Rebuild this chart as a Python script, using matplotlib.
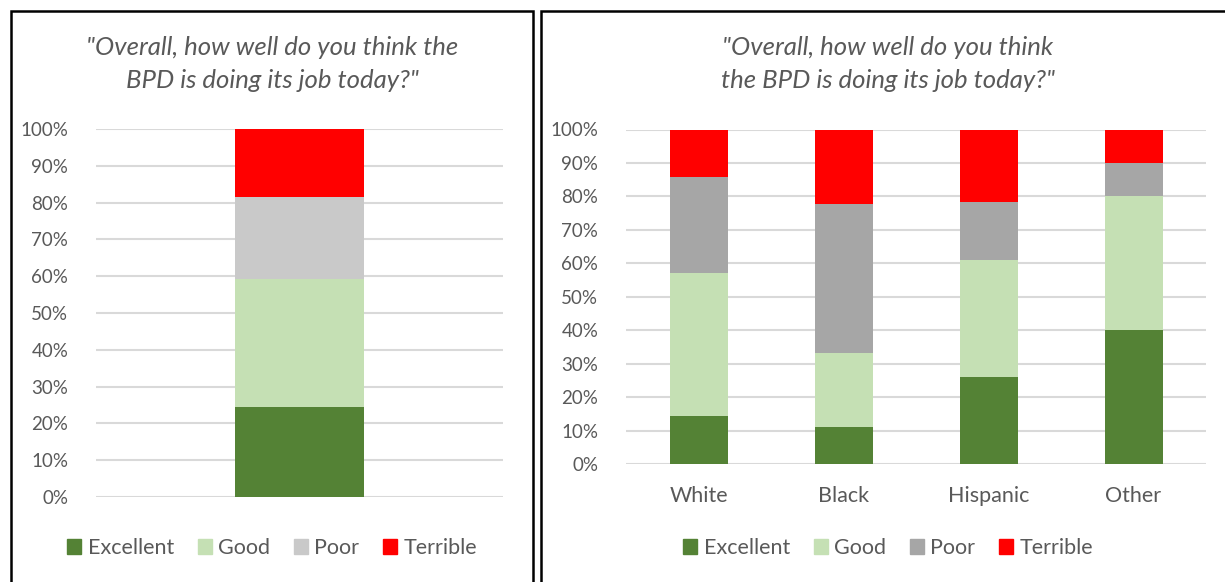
import numpy as np
import matplotlib.pyplot as plt
from matplotlib.patches import Rectangle, Patch
from matplotlib.ticker import PercentFormatter

plt.rcParams['font.family'] = ['Lato', 'DejaVu Sans']

# response shares (%), overall sample
ratings = ["Excellent", "Good", "Poor", "Terrible"]
overall = [24.5, 34.7, 22.4, 18.4]

# response shares (%) by race
groups = ["White", "Black", "Hispanic", "Other"]
excellent = [14.3, 11.1, 26.1, 40.0]
good = [42.9, 22.2, 34.8, 40.0]
poor = [28.6, 44.4, 17.4, 10.0]
terrible = [14.3, 22.2, 21.7, 10.0]

title = '"Overall, how well do you think the\nBPD is doing its job today?"'
title_r = '"Overall, how well do you think\nthe BPD is doing its job today?"'

GREEN = "#548235"
LIGHT = "#c5e0b4"
GREY_L = "#c9c9c9"
GREY_R = "#a6a6a6"
RED = "#ff0000"
TXT = "#595959"
GRID = "#d9d9d9"

W, H = 1225, 582
fig = plt.figure(figsize=(W / 100, H / 100), dpi=100)

# black frames around each chart
for x0, x1 in [(11, 533), (541, 1236)]:
    fig.patches.append(Rectangle((x0 / W, -0.05), (x1 - x0) / W, 1.05 - 11 / H,
                                 transform=fig.transFigure, fill=False,
                                 edgecolor="black", linewidth=1.8))


def style(ax):
    ax.set_ylim(0, 1)
    ax.yaxis.set_major_locator(plt.MultipleLocator(0.1))
    ax.yaxis.set_major_formatter(PercentFormatter(1.0, decimals=0))
    ax.grid(axis="y", color=GRID, linewidth=1.5)
    ax.set_axisbelow(True)
    for s in ax.spines.values():
        s.set_visible(False)
    ax.tick_params(axis="y", length=0, pad=20, labelsize=13.5, labelcolor=TXT)
    ax.tick_params(axis="x", length=0, pad=16, labelsize=15.5, labelcolor=TXT)


# left: overall
axl = fig.add_axes([96 / W, 1 - 497 / H, 407 / W, 368 / H])
bottom = 0.0
colors_l = [GREEN, LIGHT, GREY_L, RED]
for name, v, c in zip(ratings, overall, colors_l):
    axl.bar([0], [v / 100], bottom=bottom, width=0.317, color=c, label=name)
    bottom += v / 100
axl.set_xlim(-0.5, 0.5)
axl.set_xticks([])
style(axl)
fig.text(272 / W, 1 - 64 / H, title, ha="center", va="center", fontsize=18.5,
         style="italic", color=TXT, linespacing=1.5)
hl = [Patch(color=c) for c in colors_l]
fig.legend(hl, ratings, loc="center", bbox_to_anchor=(272 / W, 1 - 548 / H),
           ncol=4, frameon=False, fontsize=15.5, handlelength=0.65, handleheight=0.65,
           handletextpad=0.3, columnspacing=1.1, labelcolor=TXT)

# right: by race
axr = fig.add_axes([626 / W, 1 - 464 / H, 580 / W, 334.5 / H])
x = np.arange(len(groups))
colors_r = [GREEN, LIGHT, GREY_R, RED]
bottom = np.zeros(len(groups))
for name, vals, c in zip(ratings, [excellent, good, poor, terrible], colors_r):
    vals = np.array(vals) / 100
    axr.bar(x, vals, bottom=bottom, width=0.4, color=c, label=name)
    bottom += vals
axr.set_xlim(-0.5, len(groups) - 0.5)
axr.set_xticks(x)
axr.set_xticklabels(groups)
style(axr)
fig.text(888 / W, 1 - 64 / H, title_r, ha="center", va="center", fontsize=18.5,
         style="italic", color=TXT, linespacing=1.5)
hr = [Patch(color=c) for c in colors_r]
fig.legend(hr, ratings, loc="center", bbox_to_anchor=(888 / W, 1 - 548 / H),
           ncol=4, frameon=False, fontsize=15.5, handlelength=0.65, handleheight=0.65,
           handletextpad=0.3, columnspacing=1.1, labelcolor=TXT)

fig.savefig("out.png", dpi=100)
